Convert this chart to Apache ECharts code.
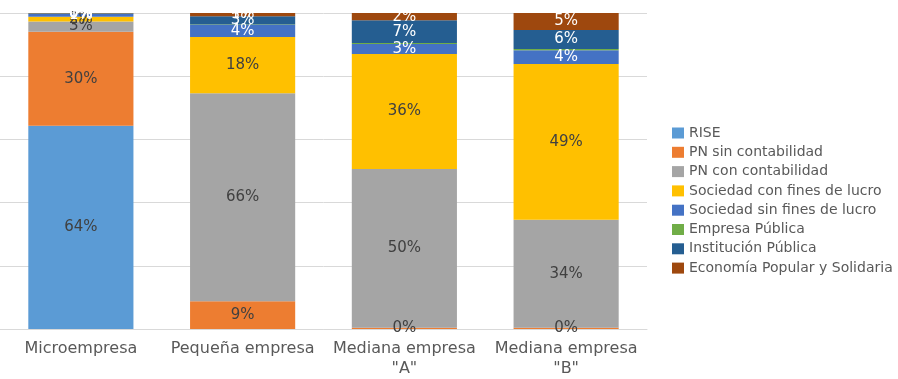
<!DOCTYPE html>
<html>
<head>
<meta charset="utf-8">
<script src="https://cdn.jsdelivr.net/npm/echarts@6/dist/echarts.min.js"></script>
<style>html,body{margin:0;padding:0;background:#fff}#c{width:898px;height:379px}</style>
</head>
<body>
<div id="c"></div>
<script>
const categories = ['Microempresa', 'Pequeña empresa', 'Mediana empresa\n"A"', 'Mediana empresa\n"B"'];
const seriesNames = ['RISE', 'PN sin contabilidad', 'PN con contabilidad', 'Sociedad con fines de lucro', 'Sociedad sin fines de lucro', 'Empresa Pública', 'Institución Pública', 'Economía Popular y Solidaria'];
const rise        = [64.3, null, null, null];
const pnSin       = [29.8, 8.8, 0.4, 0.4];
const pnCon       = [3.2, 65.8, 50.2, 34.2];
const socCon      = [1.5, 17.8, 36.4, 49.3];
const socSin      = [0.9, 3.8, 3.2, 4.3];
const empPublica  = [0.1, 0.2, 0.3, 0.4];
const instPublica = [0.1, 2.6, 7.2, 6.0];
const economia    = [0.1, 1.0, 2.3, 5.4];
const colors = ['#5B9BD5', '#ED7D31', '#A5A5A5', '#FFC000', '#4472C4', '#70AD47', '#255E91', '#9E480E'];
const labelColors = ['#404040', '#404040', '#404040', '#404040', '#ffffff', '#ffffff', '#ffffff', '#ffffff'];

const allData = [rise, pnSin, pnCon, socCon, socSin, empPublica, instPublica, economia];
const font = 'DejaVu Sans, sans-serif';

const chart = echarts.init(document.getElementById('c'));
chart.setOption({
  animation: false,
  textStyle: { fontFamily: font },
  grid: { left: 0, right: 251, top: 13, bottom: 49, containLabel: false },
  legend: {
    orient: 'vertical',
    left: 667, top: 121,
    itemWidth: 12, itemHeight: 11, itemGap: 5.3,
    icon: 'rect',
    textStyle: { fontSize: 14, color: '#595959', fontFamily: font },
    data: seriesNames
  },
  xAxis: {
    type: 'category',
    data: categories,
    axisLine: { lineStyle: { color: '#D9D9D9' } },
    axisTick: { show: false },
    axisLabel: { color: '#595959', fontSize: 16, lineHeight: 20, margin: 10, interval: 0, fontFamily: font }
  },
  yAxis: {
    type: 'value', min: 0, max: 100, interval: 20,
    axisLabel: { show: false },
    axisLine: { show: false }, axisTick: { show: false },
    splitLine: { lineStyle: { color: '#D9D9D9' } }
  },
  series: allData.map((arr, i) => ({
    name: seriesNames[i],
    type: 'bar',
    stack: 'total',
    barWidth: '65%',
    data: arr,
    itemStyle: { color: colors[i] },
    label: {
      show: true,
      position: 'inside',
      color: labelColors[i],
      fontSize: 15,
      fontFamily: font,
      formatter: p => (p.value == null || (i === 5 && p.dataIndex > 0) ? '' : Math.round(p.value) + '%')
    },
    labelLayout: { hideOverlap: false }
  }))
});
</script>
</body>
</html>
